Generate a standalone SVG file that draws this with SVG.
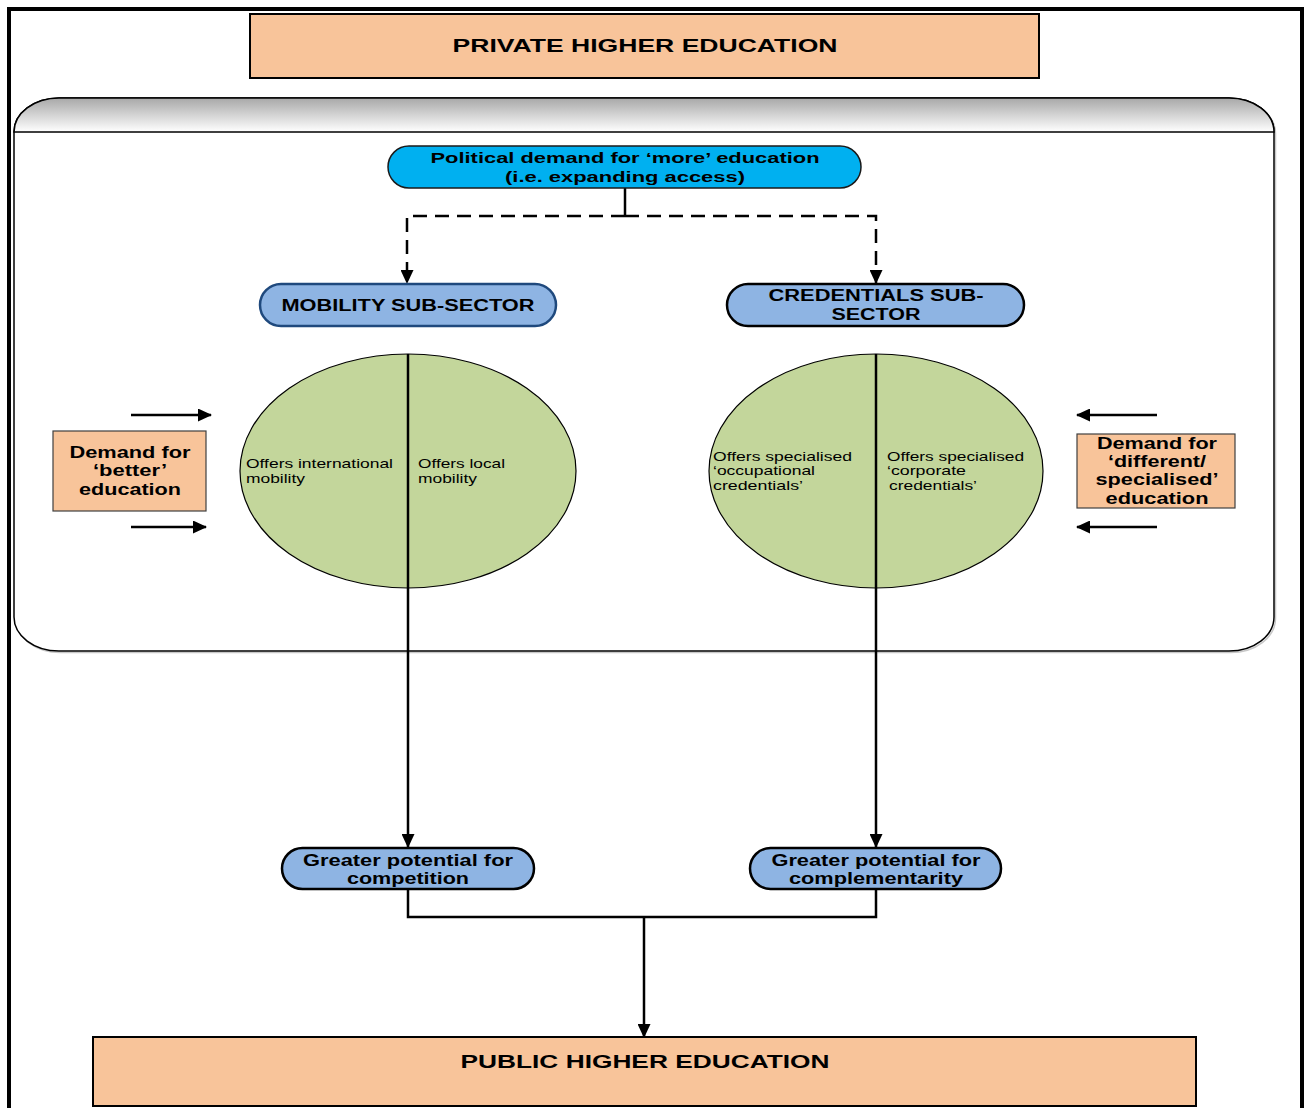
<svg xmlns="http://www.w3.org/2000/svg" width="1306" height="1108" viewBox="0 0 1306 1108">
<defs>
<linearGradient id="hdr" x1="0" y1="0" x2="0" y2="1">
<stop offset="0" stop-color="#a8a8a8"/>
<stop offset="1" stop-color="#ffffff"/>
</linearGradient>
<marker id="ah" markerWidth="14" markerHeight="13" refX="13" refY="6.5" orient="auto" markerUnits="userSpaceOnUse">
<path d="M0,0 L14,6.5 L0,13 Z" fill="#000"/>
</marker>
</defs>
<style>
.peach{fill:#F8C49A;stroke:#000;stroke-width:2}
.peach2{fill:#F8C49A;stroke:#404040;stroke-width:1.2}
.pill{fill:#8EB4E3;stroke:#000;stroke-width:2.5}
.ell{fill:#C3D69B;stroke:#000;stroke-width:1.2}
.b{font-family:"Liberation Sans",Arial,sans-serif;font-weight:bold;fill:#000;text-anchor:middle}
.n{font-family:"Liberation Sans",Arial,sans-serif;font-size:13px;fill:#000}
.ln{fill:none;stroke:#000;stroke-width:2.5}
.dash{fill:none;stroke:#000;stroke-width:2.5;stroke-dasharray:14 8}
</style>
<rect width="1306" height="1108" fill="#fff"/>
<rect x="9" y="9" width="1293" height="1120" fill="none" stroke="#000" stroke-width="4"/>

<g id="private">
<rect class="peach" x="250" y="14" width="789" height="64"/>
<text class="b" x="645" y="52" font-size="18" textLength="385" lengthAdjust="spacingAndGlyphs">PRIVATE HIGHER EDUCATION</text>
</g>

<g id="container">
<path d="M59,98 H1229 A45,34 0 0 1 1274,132 V617 A45,34 0 0 1 1229,651 H59 A45,34 0 0 1 14,617 V132 A45,34 0 0 1 59,98 Z" fill="none" stroke="#c8c8c8" stroke-width="1.5" transform="translate(1.5,1.5)"/>
<path d="M59,98 H1229 A45,34 0 0 1 1274,132 V617 A45,34 0 0 1 1229,651 H59 A45,34 0 0 1 14,617 V132 A45,34 0 0 1 59,98 Z" fill="#fff" stroke="#000" stroke-width="1.5"/>
<path d="M14,132 A45,34 0 0 1 59,98 H1229 A45,34 0 0 1 1274,132 Z" fill="url(#hdr)" stroke="#000" stroke-width="1.5"/>
</g>

<g id="connectors">
<path class="ln" d="M625,188 V216"/>
<path class="dash" d="M625,216 H407 V283" marker-end="url(#ah)"/>
<path class="dash" d="M625,216 H876 V283" marker-end="url(#ah)"/>
<path class="ln" d="M408,354 V847" marker-end="url(#ah)"/>
<path class="ln" d="M876,354 V847" marker-end="url(#ah)"/>
<path class="ln" d="M408,889 V917 H876 V889"/>
<path class="ln" d="M644,917 V1037" marker-end="url(#ah)"/>
<path class="ln" d="M131,415 H211" stroke-width="2" marker-end="url(#ah)"/>
<path class="ln" d="M131,527 H206" stroke-width="2" marker-end="url(#ah)"/>
<path class="ln" d="M1157,415 H1077" stroke-width="2" marker-end="url(#ah)"/>
<path class="ln" d="M1157,527 H1077" stroke-width="2" marker-end="url(#ah)"/>
</g>

<g id="political">
<rect x="388" y="146" width="473" height="42" rx="21" ry="21" fill="#00B0F0" stroke="#1a1a1a" stroke-width="1.5"/>
<text class="b" x="625" y="163" font-size="15" textLength="389" lengthAdjust="spacingAndGlyphs">Political demand for ‘more’ education</text>
<text class="b" x="625" y="182" font-size="15" textLength="240" lengthAdjust="spacingAndGlyphs">(i.e. expanding access)</text>
</g>

<g id="mobility">
<rect x="260" y="284" width="296" height="42" rx="21" ry="21" fill="#8EB4E3" stroke="#1F497D" stroke-width="2.5"/>
<text class="b" x="408" y="311" font-size="16" textLength="253" lengthAdjust="spacingAndGlyphs">MOBILITY SUB-SECTOR</text>
</g>

<g id="credentials">
<rect class="pill" x="727" y="284" width="297" height="42" rx="21" ry="21"/>
<text class="b" x="876" y="301" font-size="16" textLength="215" lengthAdjust="spacingAndGlyphs">CREDENTIALS SUB-</text>
<text class="b" x="876" y="320" font-size="16" textLength="89" lengthAdjust="spacingAndGlyphs">SECTOR</text>
</g>

<g id="mobility-circle">
<ellipse class="ell" cx="408" cy="471" rx="168" ry="117"/>
<line x1="408" y1="354" x2="408" y2="588" stroke="#000" stroke-width="2.5"/>
<text class="n" x="246" y="468" textLength="147" lengthAdjust="spacingAndGlyphs">Offers international</text>
<text class="n" x="246" y="483" textLength="59" lengthAdjust="spacingAndGlyphs">mobility</text>
<text class="n" x="418" y="468" textLength="87" lengthAdjust="spacingAndGlyphs">Offers local</text>
<text class="n" x="418" y="483" textLength="59" lengthAdjust="spacingAndGlyphs">mobility</text>
</g>

<g id="credentials-circle">
<ellipse class="ell" cx="876" cy="471" rx="167" ry="117"/>
<line x1="876" y1="354" x2="876" y2="588" stroke="#000" stroke-width="2.5"/>
<text class="n" x="713" y="461" textLength="139" lengthAdjust="spacingAndGlyphs">Offers specialised</text>
<text class="n" x="713" y="475" textLength="102" lengthAdjust="spacingAndGlyphs">‘occupational</text>
<text class="n" x="713" y="490" textLength="90" lengthAdjust="spacingAndGlyphs">credentials’</text>
<text class="n" x="887" y="461" textLength="137" lengthAdjust="spacingAndGlyphs">Offers specialised</text>
<text class="n" x="887" y="475" textLength="79" lengthAdjust="spacingAndGlyphs">‘corporate</text>
<text class="n" x="889" y="490" textLength="88" lengthAdjust="spacingAndGlyphs">credentials’</text>
</g>

<g id="demand-better">
<rect class="peach2" x="53" y="431" width="153" height="80"/>
<text class="b" x="130" y="458" font-size="16" textLength="121" lengthAdjust="spacingAndGlyphs">Demand for</text>
<text class="b" x="130" y="476" font-size="16" textLength="74" lengthAdjust="spacingAndGlyphs">‘better’</text>
<text class="b" x="130" y="495" font-size="16" textLength="102" lengthAdjust="spacingAndGlyphs">education</text>
</g>

<g id="demand-different">
<rect class="peach2" x="1077" y="434" width="158" height="74"/>
<text class="b" x="1157" y="449" font-size="16" textLength="120" lengthAdjust="spacingAndGlyphs">Demand for</text>
<text class="b" x="1157" y="467" font-size="16" textLength="98" lengthAdjust="spacingAndGlyphs">‘different/</text>
<text class="b" x="1157" y="485" font-size="16" textLength="123" lengthAdjust="spacingAndGlyphs">specialised’</text>
<text class="b" x="1157" y="504" font-size="16" textLength="103" lengthAdjust="spacingAndGlyphs">education</text>
</g>

<g id="competition">
<rect class="pill" x="282" y="848" width="252" height="41" rx="20.5" ry="20.5"/>
<text class="b" x="408" y="866" font-size="16" textLength="210" lengthAdjust="spacingAndGlyphs">Greater potential for</text>
<text class="b" x="408" y="884" font-size="16" textLength="122" lengthAdjust="spacingAndGlyphs">competition</text>
</g>

<g id="complementarity">
<rect class="pill" x="750" y="848" width="251" height="41" rx="20.5" ry="20.5"/>
<text class="b" x="876" y="866" font-size="16" textLength="209" lengthAdjust="spacingAndGlyphs">Greater potential for</text>
<text class="b" x="876" y="884" font-size="16" textLength="174" lengthAdjust="spacingAndGlyphs">complementarity</text>
</g>

<g id="public">
<rect class="peach" x="93" y="1037" width="1103" height="69"/>
<text class="b" x="645" y="1068" font-size="18" textLength="369" lengthAdjust="spacingAndGlyphs">PUBLIC HIGHER EDUCATION</text>
</g>
</svg>
